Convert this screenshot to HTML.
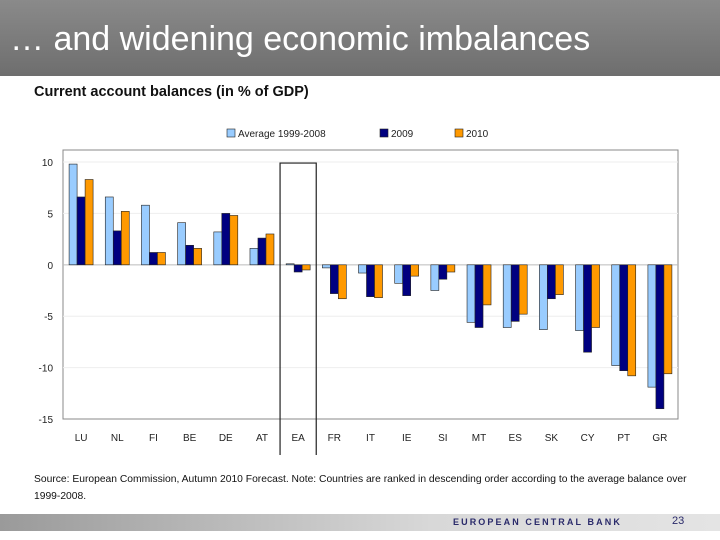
<!DOCTYPE html>
<html><head><meta charset="utf-8"><style>
body{margin:0;width:720px;height:540px;background:#fff;position:relative;overflow:hidden;font-family:"Liberation Sans",sans-serif}
#hdr{position:absolute;left:0;top:0;width:720px;height:76px;background:linear-gradient(#8a8a8a,#6e6e6e)}
#title{position:absolute;left:10px;top:20px;color:#fff;font-size:34px;white-space:nowrap}
#sub{position:absolute;left:34px;top:84px;font-size:14.5px;font-weight:bold;color:#111;white-space:nowrap}
#src{position:absolute;left:34px;top:471px;font-size:10.3px;color:#111;line-height:17px;white-space:nowrap}
#foot{position:absolute;left:0;top:514px;width:720px;height:17px;background:linear-gradient(90deg,#9a9a9a,#d8d8d8 60%,#e4e4e4)}
#ecb{position:absolute;left:453px;top:517px;font-size:9px;font-weight:bold;letter-spacing:2.1px;color:#2a2a6a;white-space:nowrap}
#pg{position:absolute;left:672px;top:515px;font-size:11px;color:#2a2a6a}
</style></head><body>
<div id="hdr"><div id="title">… and widening economic imbalances</div></div>
<div id="sub">Current account balances (in % of GDP)</div>
<svg id="chart" width="720" height="540" style="position:absolute;left:0;top:0"></svg>
<div id="src">Source: European Commission, Autumn 2010 Forecast. Note: Countries are ranked in descending order according to the average balance over<br>1999-2008.</div>
<div id="foot"></div>
<div id="ecb">EUROPEAN CENTRAL BANK</div>
<div id="pg">23</div>
<script>
const categories=["LU","NL","FI","BE","DE","AT","EA","FR","IT","IE","SI","MT","ES","SK","CY","PT","GR"];
const avg=[9.8,6.6,5.8,4.1,3.2,1.6,0.1,-0.3,-0.8,-1.8,-2.5,-5.6,-6.1,-6.3,-6.4,-9.8,-11.9];
const y2009=[6.6,3.3,1.2,1.9,5.0,2.6,-0.7,-2.8,-3.1,-3.0,-1.4,-6.1,-5.5,-3.3,-8.5,-10.3,-14.0];
const y2010=[8.3,5.2,1.2,1.6,4.8,3.0,-0.5,-3.3,-3.2,-1.1,-0.7,-3.9,-4.8,-2.9,-6.1,-10.8,-10.6];
const seriesNames=["Average 1999-2008","2009","2010"];
const colors=["#99ccff","#000080","#ff9900"];
const yTicks=[10,5,0,-5,-10,-15];
const svg=document.getElementById('chart');const NS="http://www.w3.org/2000/svg";
const L=63,R=678,T=150,B=419,yMax=11.17,yMin=-15;
const y=v=>T+(yMax-v)/(yMax-yMin)*(B-T);
const bw=(R-L)/categories.length;
const xc=i=>L+bw*(i+0.5);
function mk(t,a,p){const e=document.createElementNS(NS,t);for(const k in a)e.setAttribute(k,a[k]);(p||svg).appendChild(e);return e;}
let e=mk('rect',{x:L,y:T,width:R-L,height:B-T,fill:'#fff',stroke:'#888','stroke-width':1});

yTicks.forEach(t=>{
 if(t!==0&&t!==-15){let g=mk('line',{x1:L,x2:R,y1:y(t),y2:y(t),stroke:'#eee'});}
 let tx=mk('text',{x:L-10,y:y(t)+4,'text-anchor':'end','font-size':10,fill:'#222'});tx.textContent=t;
 
});
let z=mk('line',{x1:L,x2:R,y1:y(0),y2:y(0),stroke:'#bbb'});
const series=[avg,y2009,y2010];
categories.forEach((c,i)=>{
 series.forEach((s,j)=>{
  const v=s[i];const x=xc(i)-12+j*8;
  let r=mk('rect',{x:x,y:Math.min(y(v),y(0)),width:8,height:Math.abs(y(v)-y(0)),fill:colors[j],stroke:'#222','stroke-width':0.6});
  
 });
 let tx=mk('text',{x:xc(i),y:441,'text-anchor':'middle','font-size':10,fill:'#222'});tx.textContent=c;
 
});
const ei=categories.indexOf("EA");
let box=mk('path',{d:`M${L+bw*ei} 455 V${y(9.9)} H${L+bw*(ei+1)} V455`,fill:'none',stroke:'#222','stroke-width':1.2});

const lx=[227,380,455];
seriesNames.forEach((n,j)=>{
 let r=mk('rect',{x:lx[j],y:129,width:8,height:8,fill:colors[j],stroke:'#222','stroke-width':0.6});
 
 let t=mk('text',{x:lx[j]+11,y:137,'font-size':10,fill:'#222'});t.textContent=n;
 
});
</script>
</body></html>
